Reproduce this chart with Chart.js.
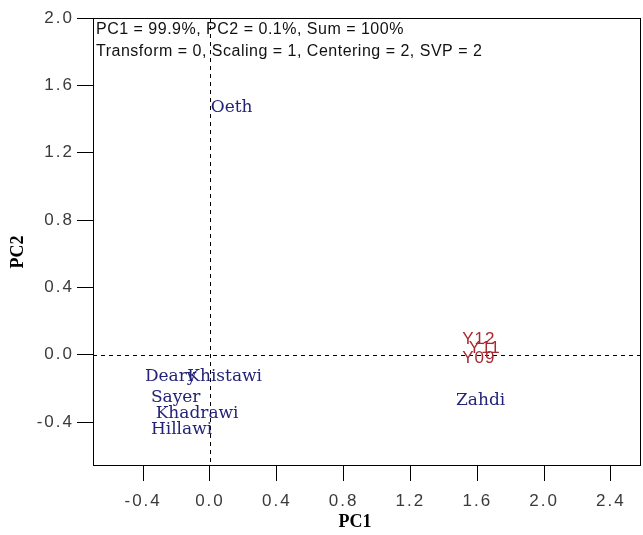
<!DOCTYPE html>
<html><head><meta charset="utf-8">
<script src="https://cdn.jsdelivr.net/npm/chart.js@4/dist/chart.umd.min.js"></script>
<style>html,body{margin:0;padding:0;background:#fff}#wrap{width:643px;height:535px}</style>
</head><body><div id="wrap"><canvas id="c" width="643" height="535"></canvas></div>
<script>
// Sample scores (navy labels)
const sampleNames = ['Oeth','Deary','Khistawi','Sayer','Khadrawi','Hillawi','Zahdi'];
const samplePC1 = [0.13, -0.235, 0.088, -0.205, -0.077, -0.17, 1.62];
const samplePC2 = [1.47, -0.131, -0.131, -0.256, -0.351, -0.446, -0.275];
// Variable loadings (red labels)
const varNames = ['Y12','Y11','Y09'];
const varPC1 = [1.609, 1.645, 1.609];
const varPC2 = [0.09, 0.04, -0.02];
// Axis ticks
const xTicks = [-0.4, 0.0, 0.4, 0.8, 1.2, 1.6, 2.0, 2.4];
const yTicks = [-0.4, 0.0, 0.4, 0.8, 1.2, 1.6, 2.0];
const headerLines = ['PC1 = 99.9%, PC2 = 0.1%, Sum = 100%', 'Transform = 0, Scaling = 1, Centering = 2, SVP = 2'];

const samples = sampleNames.map((n,i)=>({x:samplePC1[i], y:samplePC2[i], label:n}));
const vars = varNames.map((n,i)=>({x:varPC1[i], y:varPC2[i], label:n}));

const overlay = {
  id:'overlay',
  beforeDraw(chart){ chart.ctx.letterSpacing = '2px'; },
  beforeDatasetsDraw(chart){
    const {ctx, chartArea:a, scales:{x,y}} = chart;
    ctx.letterSpacing = '0px';
    ctx.save();
    ctx.strokeStyle = '#000'; ctx.lineWidth = 1; ctx.setLineDash([4,4]);
    const x0 = Math.round(x.getPixelForValue(0))+0.5, y0 = Math.round(y.getPixelForValue(0))+0.5;
    ctx.beginPath(); ctx.moveTo(x0, a.top); ctx.lineTo(x0, a.bottom); ctx.stroke();
    ctx.beginPath(); ctx.moveTo(a.left, y0); ctx.lineTo(a.right, y0); ctx.stroke();
    ctx.restore();
  },
  afterDatasetsDraw(chart){
    const {ctx, chartArea:a} = chart;
    ctx.save();
    ctx.letterSpacing = '0px';
    ctx.textAlign='center'; ctx.textBaseline='middle';
    chart.getDatasetMeta(0).data.forEach((p,i)=>{
      ctx.font = '17px "DejaVu Serif", serif'; ctx.fillStyle='#232378';
      ctx.fillText(samples[i].label, p.x, p.y);
    });
    ctx.letterSpacing = '1px';
    chart.getDatasetMeta(1).data.forEach((p,i)=>{
      ctx.font = '17px "Liberation Sans Narrow", "Liberation Sans", sans-serif'; ctx.fillStyle='#a82a30';
      ctx.fillText(vars[i].label, p.x, p.y);
    });
    // header text
    ctx.letterSpacing = '0.5px';
    ctx.textAlign='left'; ctx.textBaseline='middle'; ctx.fillStyle='#111';
    ctx.font = '16px "Liberation Sans", Arial, sans-serif';
    ctx.fillText(headerLines[0], a.left+3, a.top+12);
    ctx.fillText(headerLines[1], a.left+3, a.top+34);
    ctx.letterSpacing = '0px';
    // box
    ctx.strokeStyle='#000'; ctx.lineWidth=1; ctx.setLineDash([]);
    ctx.strokeRect(a.left+0.5, a.top+0.5, a.right-a.left-1, a.bottom-a.top);
    // axis titles
    ctx.fillStyle='#000'; ctx.font='bold 18px "Liberation Serif", serif';
    ctx.textAlign='center';
    ctx.fillText('PC1', 355, 522);
    ctx.translate(18, 252); ctx.rotate(-Math.PI/2);
    ctx.fillText('PC2', 0, 0);
    ctx.restore();
  }
};

new Chart(document.getElementById('c'), {
  type:'scatter',
  data:{datasets:[
    {data:samples, pointRadius:0, showLine:false},
    {data:vars, pointRadius:0, showLine:false}
  ]},
  options:{
    responsive:false, animation:false,
    plugins:{legend:{display:false}, tooltip:{enabled:false}},
    layout:{padding:{left:0,right:2,top:18,bottom:0}},
    scales:{
      x:{type:'linear', min:-0.7, max:2.58,
        afterBuildTicks:s=>{s.ticks = xTicks.map(v=>({value:v}));},
        afterFit:s=>{s.height=70;},
        grid:{drawOnChartArea:false, drawTicks:true, tickLength:16, color:'#000', tickColor:'#000'},
        border:{display:false},
        ticks:{color:'#3a3a3a', font:{family:'"Liberation Sans", Arial, sans-serif', size:17}, padding:10, maxRotation:0, autoSkip:false,
          callback:v=>v.toFixed(1)}
      },
      y:{type:'linear', min:-0.655, max:2.0,
        afterBuildTicks:s=>{s.ticks = yTicks.map(v=>({value:v}));},
        afterFit:s=>{s.width=93;},
        grid:{drawOnChartArea:false, drawTicks:true, tickLength:16, color:'#000', tickColor:'#000'},
        border:{display:false},
        ticks:{color:'#3a3a3a', font:{family:'"Liberation Sans", Arial, sans-serif', size:17}, padding:3, autoSkip:false,
          callback:v=>v.toFixed(1)}
      }
    }
  },
  plugins:[overlay]
});
</script></body></html>
